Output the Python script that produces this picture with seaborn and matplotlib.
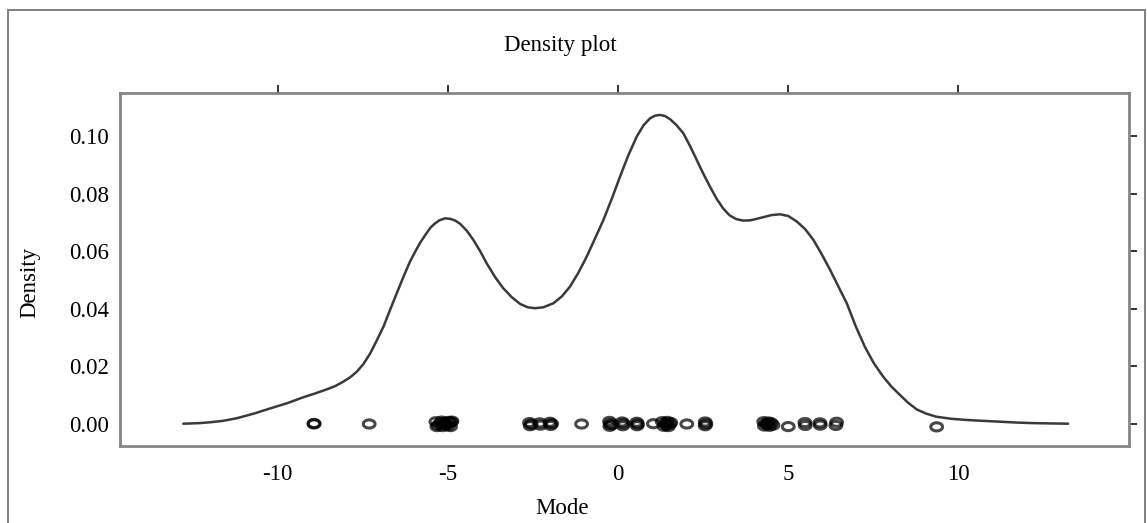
import numpy as np
import pandas as pd
import matplotlib
matplotlib.use("Agg")
import matplotlib.pyplot as plt
import seaborn as sns
from matplotlib.path import Path
from matplotlib.patches import Rectangle

# Estimated density curve of Mode
density_x = [-12.77, -12.30, -11.98, -11.60, -11.20, -10.70, -10.22, -9.70, -9.24, -8.90,
             -8.56, -8.30, -8.07, -7.87, -7.67, -7.48, -7.28, -7.10, -6.89, -6.70,
             -6.50, -6.30, -6.11, -5.95, -5.81, -5.65, -5.52, -5.40, -5.25, -5.08,
             -4.92, -4.78, -4.64, -4.45, -4.25, -4.05, -3.86, -3.60, -3.37, -3.12,
             -2.88, -2.65, -2.44, -2.20, -1.90, -1.65, -1.41, -1.17, -0.92, -0.68,
             -0.43, -0.18, 0.06, 0.30, 0.55, 0.75, 0.94, 1.08, 1.23, 1.38,
             1.53, 1.72, 1.92, 2.11, 2.31, 2.50, 2.70, 2.90, 3.09, 3.28,
             3.48, 3.68, 3.88, 4.07, 4.27, 4.50, 4.76, 5.00, 5.25, 5.50,
             5.74, 5.98, 6.23, 6.47, 6.72, 6.98, 7.25, 7.52, 7.79, 8.03,
             8.28, 8.52, 8.77, 9.05, 9.36, 9.80, 10.24, 10.70, 11.22, 11.70,
             12.20, 12.70, 13.22]
density_y = [0.0001, 0.0003, 0.0006, 0.0011, 0.0020, 0.0036, 0.0054, 0.0073, 0.0093, 0.0106,
             0.0120, 0.0132, 0.0147, 0.0162, 0.0182, 0.0208, 0.0245, 0.0287, 0.0338, 0.0395,
             0.0454, 0.0512, 0.0564, 0.0600, 0.0630, 0.0658, 0.0680, 0.0694, 0.0707, 0.0714,
             0.0712, 0.0706, 0.0695, 0.0672, 0.0639, 0.0600, 0.0558, 0.0508, 0.0471, 0.0440,
             0.0417, 0.0405, 0.0402, 0.0405, 0.0419, 0.0443, 0.0477, 0.0524, 0.0581, 0.0643,
             0.0708, 0.0783, 0.0859, 0.0932, 0.0998, 0.1037, 0.1061, 0.1070, 0.1073, 0.1069,
             0.1058, 0.1037, 0.1009, 0.0966, 0.0917, 0.0870, 0.0824, 0.0781, 0.0748, 0.0724,
             0.0711, 0.0706, 0.0707, 0.0712, 0.0718, 0.0725, 0.0728, 0.0722, 0.0703, 0.0676,
             0.0639, 0.0590, 0.0535, 0.0478, 0.0419, 0.0340, 0.0268, 0.0210, 0.0164, 0.0130,
             0.0101, 0.0074, 0.0051, 0.0036, 0.0025, 0.0018, 0.0014, 0.0011, 0.0008, 0.0005,
             0.0003, 0.0002, 0.0001]

# Observed values shown as a jittered rug along the baseline
mode_values = [-8.93, -8.93, -7.31,
               -5.35, -5.32, -5.28, -5.22, -5.18, -5.15, -5.10, -5.08, -5.05,
               -5.00, -4.98, -4.95, -4.92, -4.90, -4.88,
               -2.60, -2.58, -2.55, -2.30, -2.28, -2.00, -1.98, -1.95, -1.07,
               -0.25, -0.24, -0.22, -0.20, 0.12, 0.14, 0.15, 0.55, 0.56, 0.57, 1.04,
               1.30, 1.35, 1.40, 1.42, 1.45, 1.48, 1.52, 1.55, 2.02, 2.56, 2.56, 2.58,
               4.28, 4.30, 4.35, 4.38, 4.42, 4.45, 4.50, 4.55, 5.00,
               5.49, 5.50, 5.93, 5.94, 6.42, 6.40, 9.36]
rug_offsets = [0.0000, 0.0002, 0.0000,
               0.0008, -0.0009, -0.0004, 0.0003, 0.0010, -0.0009, 0.0006, -0.0003, 0.0000,
               -0.0006, 0.0009, 0.0004, -0.0009, 0.0007, 0.0010,
               0.0005, -0.0006, -0.0001, 0.0004, -0.0004, 0.0006, -0.0005, 0.0001, 0.0000,
               0.0009, -0.0008, 0.0001, -0.0003, 0.0007, -0.0006, 0.0001, 0.0006, -0.0006, 0.0000, 0.0001,
               0.0008, -0.0008, 0.0003, -0.0003, 0.0009, -0.0009, 0.0000, 0.0005, 0.0000, 0.0007, -0.0006, 0.0000,
               0.0008, -0.0007, 0.0002, -0.0002, 0.0007, -0.0008, 0.0004, -0.0004, -0.0009,
               0.0005, -0.0005, 0.0004, -0.0004, 0.0006, -0.0005, -0.0010]

x_ticks = [-10, -5, 0, 5, 10]
x_tick_labels = ["-10", "-5", "0", "5", "10"]
y_ticks = [0.00, 0.02, 0.04, 0.06, 0.08, 0.10]
y_tick_labels = ["0.00", "0.02", "0.04", "0.06", "0.08", "0.10"]

sns.set_theme(style="white")
plt.rcParams["font.family"] = ["Liberation Serif", "DejaVu Serif"]
plt.rcParams["text.color"] = "black"

W, H = 1147, 523
fig = plt.figure(figsize=(W / 100, H / 100), dpi=100)
fig.patch.set_facecolor("white")

# Outer frame around the whole panel
fig.patches.append(Rectangle((8 / W, -0.05), 1137 / W, 1.05 - 10 / H, transform=fig.transFigure,
                             fill=False, edgecolor="#7f7f7f", linewidth=1.4))

ax = fig.add_axes([120 / W, 1 - 446 / H, 1009 / W, 353 / H])

curve = pd.DataFrame({"Mode": density_x, "Density": density_y})
sns.lineplot(data=curve, x="Mode", y="Density", ax=ax, color="#3a3a3a",
             linewidth=1.8, estimator=None, sort=False)

theta = np.linspace(0, 2 * np.pi, 64)
ellipse = Path(np.column_stack([1.45 * np.cos(theta), np.sin(theta)]), closed=True)
rug = pd.DataFrame({"Mode": mode_values, "Density": rug_offsets})
sns.scatterplot(data=rug, x="Mode", y="Density", ax=ax, marker=ellipse, s=72,
                fc="none", ec=(0, 0, 0, 0.72), linewidth=2.2, zorder=3)

ax.set_xlim(-14.63, 15.01)
ax.set_ylim(-0.00764, 0.1149)
ax.set_xticks(x_ticks)
ax.set_xticklabels(x_tick_labels)
ax.set_yticks(y_ticks)
ax.set_yticklabels(y_tick_labels)
ax.set_xlabel("")
ax.set_ylabel("")
ax.tick_params(direction="out", length=6, width=1.4, color="#333333",
               top=True, right=True, labeltop=False, labelright=False,
               labelsize=16.5, labelcolor="black")
ax.tick_params(axis="x", pad=7)
ax.tick_params(axis="y", pad=2)
for side in ["left", "right", "top", "bottom"]:
    ax.spines[side].set_visible(True)
    ax.spines[side].set_color("#858585")
    ax.spines[side].set_linewidth(2)

fig.text(560 / W, 1 - 45 / H, "Density plot", ha="center", va="center", fontsize=16.5)
fig.text(562 / W, 1 - 508 / H, "Mode", ha="center", va="center", fontsize=16.5)
fig.text(30 / W, 1 - 282 / H, "Density", ha="center", va="center", rotation=90, fontsize=16.5)

fig.savefig("out.png", dpi=100, facecolor="white")
